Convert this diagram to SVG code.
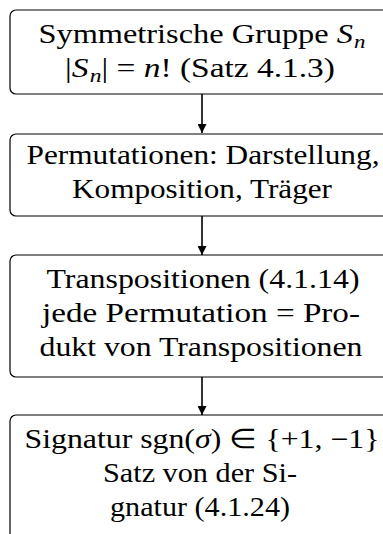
<svg xmlns="http://www.w3.org/2000/svg" width="383" height="534" viewBox="0 0 383 534">
<style>
.box{fill:#fff;stroke:#000;stroke-width:1.2}
text{font-family:'Liberation Serif','Times New Roman',serif;font-size:27px;fill:#000;text-anchor:middle}
.i{font-style:italic}
.sub{font-style:italic;font-size:19px}
.edge{stroke:#000;stroke-width:1.6;fill:none}
</style>
<defs>
<marker id="ah" viewBox="0 0 10 10" refX="10" refY="5" markerWidth="9" markerHeight="9" markerUnits="userSpaceOnUse" orient="auto">
<path d="M0,0 L10,5 L0,10 z" fill="#000"/>
</marker>
</defs>
<rect width="383" height="534" fill="#fff"/>
<g id="connectors">
<line class="edge" x1="202" y1="94" x2="202" y2="133" marker-end="url(#ah)"/>
<line class="edge" x1="202" y1="216" x2="202" y2="255" marker-end="url(#ah)"/>
<line class="edge" x1="202" y1="377" x2="202" y2="415" marker-end="url(#ah)"/>
</g>
<g id="n1">
<rect class="box" x="10" y="10" width="385" height="84" rx="6"/>
<text x="202" y="43" textLength="327" lengthAdjust="spacingAndGlyphs">Symmetrische Gruppe <tspan class="i">S</tspan><tspan class="sub" dx="1" dy="5">n</tspan></text>
<text x="200" y="77" textLength="270" lengthAdjust="spacingAndGlyphs">|<tspan class="i">S</tspan><tspan class="sub" dx="1" dy="5">n</tspan><tspan dy="-5">|  =  </tspan><tspan class="i">n</tspan>! (Satz 4.1.3)</text>
</g>
<g id="n2">
<rect class="box" x="10" y="134" width="385" height="82" rx="6"/>
<text x="203" y="164" textLength="353" lengthAdjust="spacingAndGlyphs">Permutationen: Darstellung,</text>
<text x="202" y="198" textLength="260" lengthAdjust="spacingAndGlyphs">Komposition, Träger</text>
</g>
<g id="n3">
<rect class="box" x="10" y="255" width="385" height="122" rx="6"/>
<text x="203" y="288" textLength="313" lengthAdjust="spacingAndGlyphs">Transpositionen (4.1.14)</text>
<text x="201" y="322" textLength="318" lengthAdjust="spacingAndGlyphs">jede Permutation = Pro-</text>
<text x="201" y="356" textLength="323" lengthAdjust="spacingAndGlyphs">dukt von Transpositionen</text>
</g>
<g id="n4">
<rect class="box" x="10" y="415" width="385" height="124" rx="6"/>
<text x="202" y="448" textLength="355" lengthAdjust="spacingAndGlyphs">Signatur sgn(<tspan class="i">σ</tspan>) ∈ {+1, −1}</text>
<text x="200" y="482" textLength="194" lengthAdjust="spacingAndGlyphs">Satz von der Si-</text>
<text x="200" y="516" textLength="180" lengthAdjust="spacingAndGlyphs">gnatur (4.1.24)</text>
</g>
</svg>
